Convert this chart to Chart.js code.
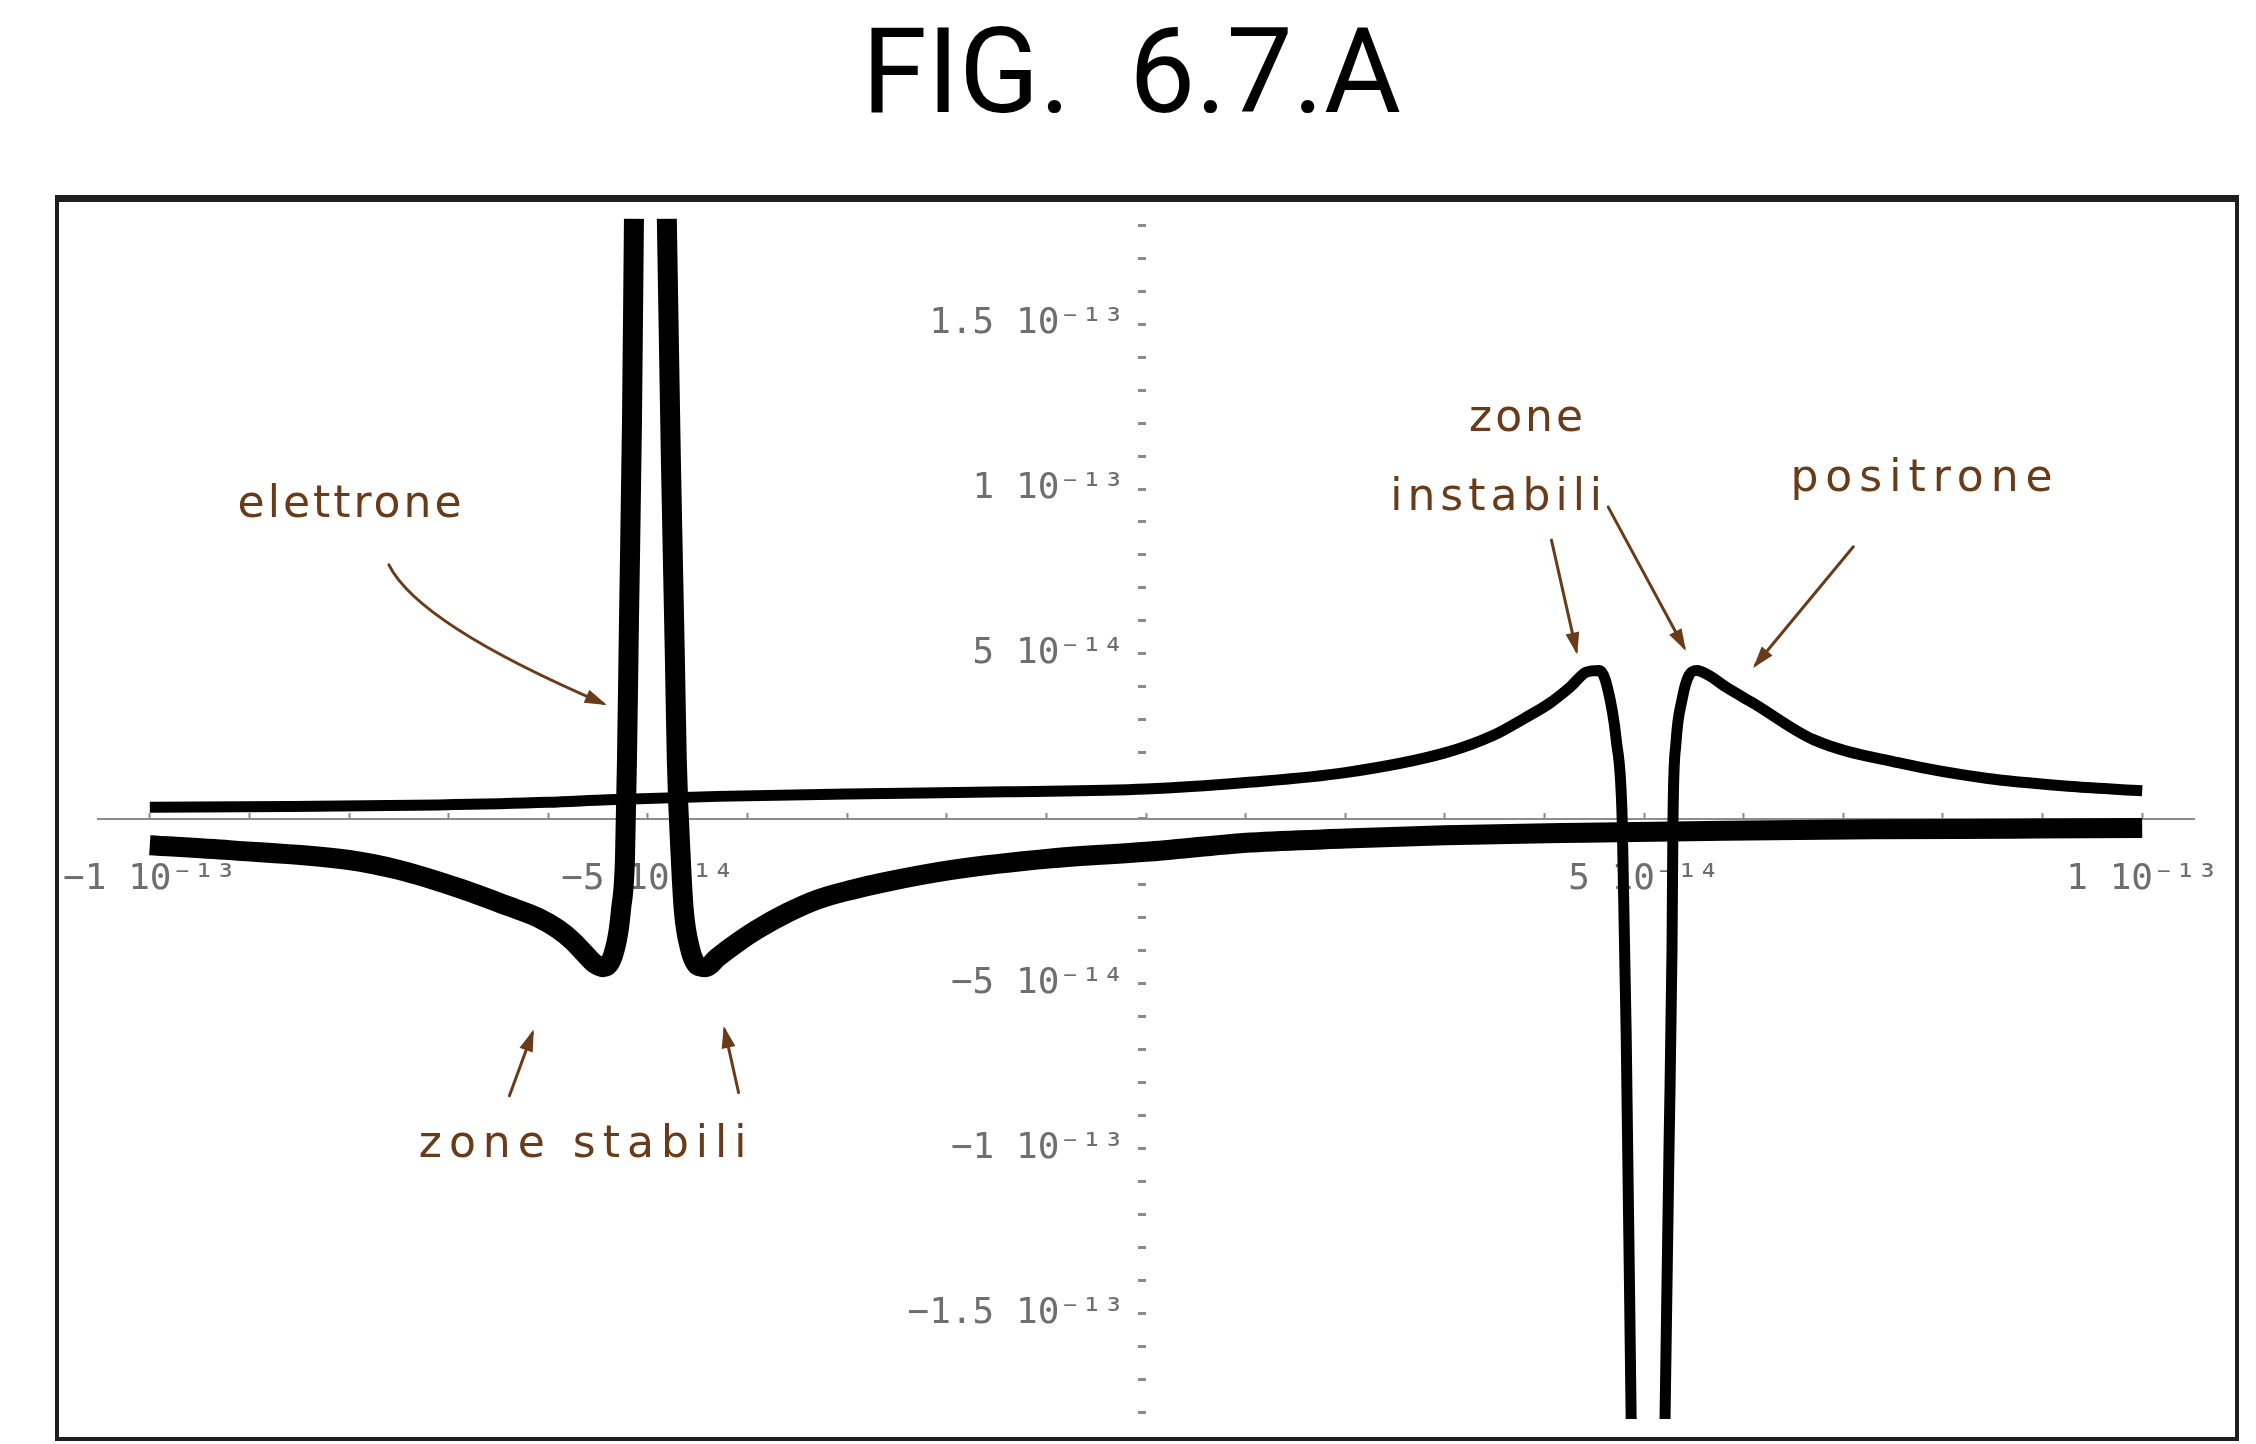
<!DOCTYPE html>
<html>
<head>
<meta charset="utf-8">
<script src="https://cdn.jsdelivr.net/npm/chart.js@4.4.1/dist/chart.umd.min.js"></script>
<style>
  html, body { margin: 0; padding: 0; background: #fff; }
  #wrap { position: relative; width: 2256px; height: 1444px; }
</style>
</head>
<body>
<div id="wrap"><canvas id="fig"></canvas></div>
<script>
// all x and y values are in units of 1e-14

// lower curve (electron), left branch, runs up into the pole
const lowerLeftX = [-10, -9.2, -8.0, -7.5, -6.9, -6.4, -6.1, -5.9, -5.75, -5.63, -5.53, -5.45, -5.37, -5.3, -5.27, -5.23, -5.21, -5.19, -5.16, -5.14];
const lowerLeftY = [-0.8, -0.95, -1.25, -1.55, -2.1, -2.65, -3.0, -3.35, -3.72, -4.1, -4.4, -4.5, -4.3, -3.5, -2.76, -1.2, 1.8, 6, 12, 18.2];

// lower curve, right branch
const lowerRightX = [-4.81, -4.77, -4.73, -4.71, -4.67, -4.64, -4.58, -4.5, -4.42, -4.3, -4.1, -3.9, -3.6, -3.3, -2.95, -2.62, -1.95, -0.95, 0, 1.06, 2.0, 3.0, 4.4, 5.8, 7.3, 8.7, 10];
const lowerRightY = [18.2, 11, 5, 1.8, -1.2, -2.76, -3.9, -4.45, -4.5, -4.2, -3.75, -3.35, -2.85, -2.45, -2.15, -1.92, -1.55, -1.2, -1.0, -0.72, -0.6, -0.5, -0.42, -0.36, -0.32, -0.3, -0.28];

// upper curve (positron), left branch, drops into the pole
const upperLeftX = [-10, -8.6, -7.1, -6.0, -5.4, -4.3, -3.0, -1.4, 0, 1.0, 2.0, 3.0, 3.5, 3.8, 4.05, 4.26, 4.42, 4.55, 4.63, 4.72, 4.78, 4.82, 4.87];
const upperLeftY = [0.35, 0.37, 0.42, 0.5, 0.58, 0.68, 0.75, 0.82, 0.9, 1.1, 1.4, 2.0, 2.55, 3.05, 3.5, 4.0, 4.45, 4.5, 4.0, 2.4, 0, -6.5, -18.2];

// upper curve, right branch
const upperRightX = [5.21, 5.25, 5.28, 5.29, 5.32, 5.38, 5.45, 5.53, 5.65, 5.82, 6.1, 6.7, 7.55, 8.45, 9.3, 10];
const upperRightY = [-18.2, -10, -4, 0, 2.3, 3.6, 4.35, 4.5, 4.35, 4.0, 3.5, 2.4, 1.7, 1.22, 0.98, 0.85];

const xTickValues = [-10, -5, 5, 10];
const xTickLabels = ['−1 10⁻¹³', '−5 10⁻¹⁴', '5 10⁻¹⁴', '1 10⁻¹³'];
const yTickValues = [-15, -10, -5, 5, 10, 15];
const yTickLabels = ['−1.5 10⁻¹³ ', '−1 10⁻¹³ ', '−5 10⁻¹⁴ ', '5 10⁻¹⁴ ', '1 10⁻¹³ ', '1.5 10⁻¹³ '];

// hand written notes, anchored in data units
const notes = [
  {text: 'elettrone', x: -7.98, y: 9.5, spacing: 3},
  {text: 'zone stabili', x: -5.62, y: -9.9, spacing: 7},
  {text: 'zone', x: 3.83, y: 12.1, spacing: 3},
  {text: 'instabili', x: 3.54, y: 9.7, spacing: 5},
  {text: 'positrone', x: 7.82, y: 10.3, spacing: 7}
];
const arrows = [
  {from: [-7.6, 7.7], via: [-7.3, 5.9], to: [-5.45, 3.5]},
  {from: [-6.39, -8.4], to: [-6.16, -6.5]},
  {from: [-4.09, -8.3], to: [-4.23, -6.4]},
  {from: [4.07, 8.45], to: [4.32, 5.1]},
  {from: [4.64, 9.45], via: [4.97, 7.6], to: [5.4, 5.2]},
  {from: [7.1, 8.25], to: [6.12, 4.67]}
];

const ink = '#6a3b18';
const monoFamily = '"DejaVu Sans Mono", monospace';

function pts(xs, ys) {
  return xs.map((x, i) => ({x: x, y: ys[i]}));
}

function pickLabel(values, labels, v) {
  const i = values.findIndex(t => Math.abs(t - v) < 1e-6);
  return i < 0 ? '' : labels[i];
}

const framePlugin = {
  id: 'frame',
  afterDraw(chart) {
    const {ctx, chartArea: a} = chart;
    ctx.save();
    ctx.strokeStyle = '#1e1e1e';
    ctx.lineWidth = 4;
    ctx.strokeRect(a.left - 41, a.top - 20, a.right - a.left + 84, a.bottom - a.top + 40);
    ctx.lineWidth = 7;
    ctx.beginPath();
    ctx.moveTo(a.left - 43, a.top - 20);
    ctx.lineTo(a.right + 45, a.top - 20);
    ctx.stroke();
    ctx.restore();
  }
};

const notesPlugin = {
  id: 'notes',
  afterDatasetsDraw(chart) {
    const {ctx} = chart;
    const sx = chart.scales.x, sy = chart.scales.y;
    const px = p => [sx.getPixelForValue(p[0]), sy.getPixelForValue(p[1])];
    ctx.save();
    ctx.fillStyle = ink;
    ctx.strokeStyle = ink;
    ctx.font = '44px "DejaVu Sans"';
    ctx.textAlign = 'center';
    ctx.textBaseline = 'middle';
    notes.forEach(n => {
      ctx.letterSpacing = n.spacing + 'px';
      ctx.fillText(n.text, sx.getPixelForValue(n.x), sy.getPixelForValue(n.y));
    });
    ctx.letterSpacing = '0px';
    ctx.lineWidth = 3;
    ctx.lineCap = 'round';
    arrows.forEach(a => {
      const p0 = px(a.from), p2 = px(a.to);
      const p1 = a.via ? px(a.via) : p0;
      ctx.beginPath();
      ctx.moveTo(p0[0], p0[1]);
      if (a.via) ctx.quadraticCurveTo(p1[0], p1[1], p2[0], p2[1]);
      else ctx.lineTo(p2[0], p2[1]);
      ctx.stroke();
      const ang = Math.atan2(p2[1] - p1[1], p2[0] - p1[0]);
      const len = 18, half = 7;
      ctx.beginPath();
      ctx.moveTo(p2[0] + 4 * Math.cos(ang), p2[1] + 4 * Math.sin(ang));
      ctx.lineTo(p2[0] - len * Math.cos(ang) + half * Math.sin(ang), p2[1] - len * Math.sin(ang) - half * Math.cos(ang));
      ctx.lineTo(p2[0] - len * Math.cos(ang) - half * Math.sin(ang), p2[1] - len * Math.sin(ang) + half * Math.cos(ang));
      ctx.closePath();
      ctx.fill();
    });
    ctx.restore();
  }
};

function curve(xs, ys, width) {
  return {
    data: pts(xs, ys),
    showLine: true,
    borderColor: '#000',
    borderWidth: width,
    pointRadius: 0,
    cubicInterpolationMode: 'monotone',
    borderJoinStyle: 'round'
  };
}

new Chart(document.getElementById('fig'), {
  type: 'scatter',
  data: {
    datasets: [
      curve(lowerLeftX, lowerLeftY, 20),
      curve(lowerRightX, lowerRightY, 20),
      curve(upperLeftX, upperLeftY, 11),
      curve(upperRightX, upperRightY, 11)
    ]
  },
  options: {
    responsive: true,
    maintainAspectRatio: false,
    animation: false,
    layout: {padding: {left: 98, right: 62, top: 0, bottom: 25}},
    plugins: {
      legend: {display: false},
      tooltip: {enabled: false},
      title: {
        display: true,
        // trailing space keeps the title centred on the page, not on the padded box
        text: 'FIG.  6.7.A ',
        color: '#000',
        font: {family: 'Roboto', size: 118, weight: 'normal', lineHeight: 1.2},
        padding: {top: 12, bottom: 65}
      }
    },
    scales: {
      x: {
        type: 'linear',
        min: -10.52,
        max: 10.52,
        position: {y: 0},
        border: {display: true, color: '#8c8c8c', width: 2},
        grid: {drawOnChartArea: false, drawTicks: true, tickLength: -7, tickColor: '#8a8a8a', tickWidth: 2},
        ticks: {
          stepSize: 1,
          autoSkip: false,
          maxRotation: 0,
          includeBounds: false,
          padding: 0,
          color: '#6e6e6e',
          // tall line box pushes the labels down without widening the layout
          font: {family: monoFamily, size: 36, lineHeight: 3.78},
          callback: v => pickLabel(xTickValues, xTickLabels, v)
        }
      },
      y: {
        type: 'linear',
        min: -18.2,
        max: 18.2,
        position: {x: 0},
        border: {display: false},
        grid: {drawOnChartArea: false, drawTicks: true, tickLength: 8, tickColor: '#8a8a8a', tickWidth: 3},
        ticks: {
          stepSize: 1,
          autoSkip: false,
          includeBounds: false,
          color: '#6e6e6e',
          font: {family: monoFamily, size: 36},
          callback: v => pickLabel(yTickValues, yTickLabels, v)
        }
      }
    }
  },
  plugins: [framePlugin, notesPlugin]
});
</script>
</body>
</html>
